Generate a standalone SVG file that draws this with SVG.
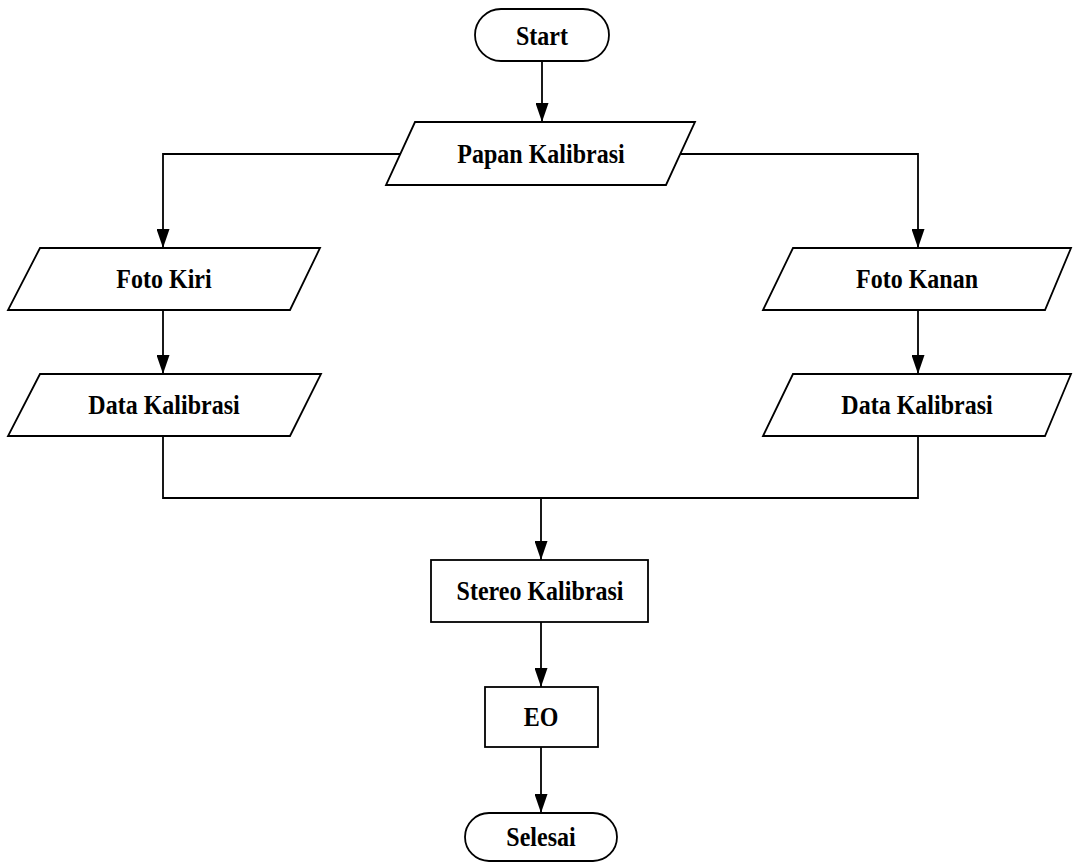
<svg xmlns="http://www.w3.org/2000/svg" width="1073" height="864" viewBox="0 0 1073 864">
<style>
.s{fill:#fff;stroke:#000;stroke-width:1.8}
.t{font-family:"Liberation Serif","Times New Roman",serif;font-weight:bold;font-size:24px;fill:#000;text-anchor:middle;dominant-baseline:central}
.c{fill:none;stroke:#000;stroke-width:1.8}
</style>
<defs>
<marker id="ah" viewBox="0 0 19 13" refX="19" refY="6.5" markerWidth="19" markerHeight="13" markerUnits="userSpaceOnUse" orient="auto">
<path d="M0,0 L19,6.5 L0,13 Z" fill="#000"/>
</marker>
</defs>
<rect width="1073" height="864" fill="#fff"/>
<g id="connectors">
<line class="c" x1="542" y1="61" x2="542" y2="122" marker-end="url(#ah)"/>
<polyline class="c" points="400,154 163,154 163,248" marker-end="url(#ah)"/>
<polyline class="c" points="681,154 918,154 918,248" marker-end="url(#ah)"/>
<line class="c" x1="163" y1="310" x2="163" y2="374" marker-end="url(#ah)"/>
<line class="c" x1="918" y1="310" x2="918" y2="374" marker-end="url(#ah)"/>
<polyline class="c" points="163,436 163,498 918,498 918,436"/>
<line class="c" x1="541" y1="498" x2="541" y2="560" marker-end="url(#ah)"/>
<line class="c" x1="541" y1="622" x2="541" y2="687" marker-end="url(#ah)"/>
<line class="c" x1="541" y1="747" x2="541" y2="813" marker-end="url(#ah)"/>
</g>
<g id="start">
<rect class="s" x="475" y="9" width="134" height="52" rx="26"/>
<text class="t" transform="translate(542,36) scale(1,1.15)">Start</text>
</g>
<g id="papan">
<polygon class="s" points="415,122 695,122 666,185 386,185"/>
<text class="t" transform="translate(541,154) scale(1,1.15)">Papan Kalibrasi</text>
</g>
<g id="fotokiri">
<polygon class="s" points="40,248 320,248 290,310 8,310"/>
<text class="t" transform="translate(164,279) scale(1,1.15)">Foto Kiri</text>
</g>
<g id="datakiri">
<polygon class="s" points="40,374 321,374 290,436 8,436"/>
<text class="t" transform="translate(164,405) scale(1,1.15)">Data Kalibrasi</text>
</g>
<g id="fotokanan">
<polygon class="s" points="793,248 1071,248 1045,310 763,310"/>
<text class="t" transform="translate(917,279) scale(1,1.15)">Foto Kanan</text>
</g>
<g id="datakanan">
<polygon class="s" points="793,374 1071,374 1045,436 763,436"/>
<text class="t" transform="translate(917,405) scale(1,1.15)">Data Kalibrasi</text>
</g>
<g id="stereo">
<rect class="s" x="431" y="560" width="217" height="62"/>
<text class="t" transform="translate(540,591) scale(1,1.15)">Stereo Kalibrasi</text>
</g>
<g id="eo">
<rect class="s" x="485" y="687" width="113" height="60"/>
<text class="t" transform="translate(541,717) scale(1,1.15)">EO</text>
</g>
<g id="selesai">
<rect class="s" x="465" y="813" width="152" height="48" rx="24"/>
<text class="t" transform="translate(541,837) scale(1,1.15)">Selesai</text>
</g>
</svg>
